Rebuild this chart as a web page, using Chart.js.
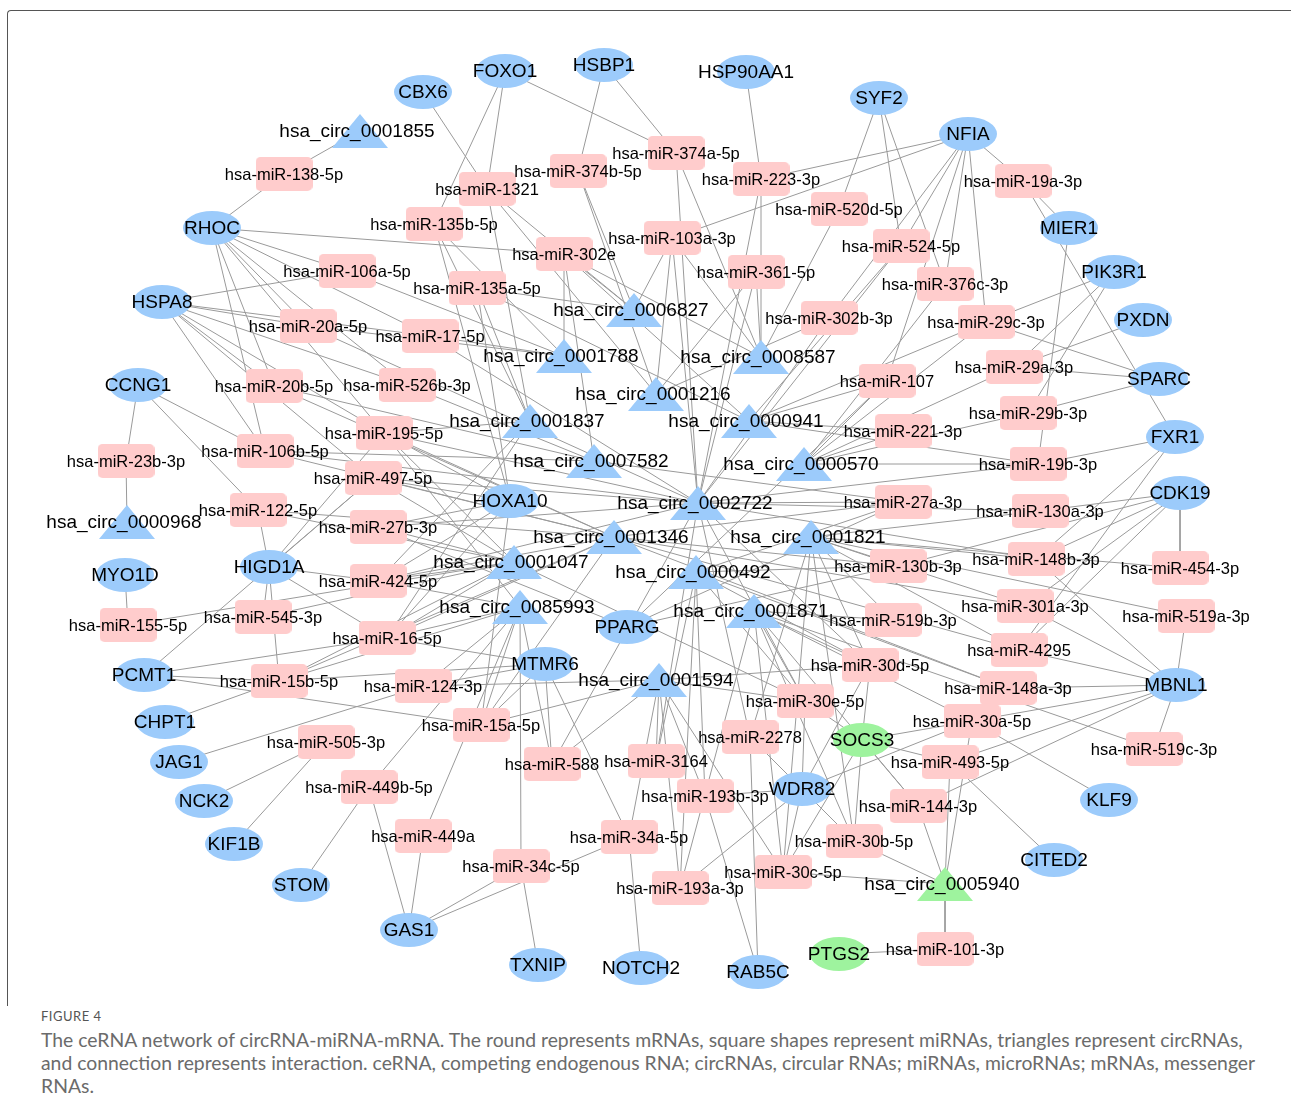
<!DOCTYPE html>
<html><head><meta charset="utf-8">
<script src="https://cdn.jsdelivr.net/npm/chart.js@4.4.1/dist/chart.umd.min.js"></script>
<style>
html,body{margin:0;padding:0;background:#fff;width:1291px;height:1113px;overflow:hidden;}
#wrap{position:absolute;left:0;top:0;width:1291px;height:1000px;}
#frame{position:absolute;left:7px;top:10px;width:1310px;height:995px;border-top:1.5px solid #555;border-left:1.5px solid #555;border-top-left-radius:4px;}
#fig{position:absolute;left:41px;top:1008px;font-family:Lato,sans-serif;font-size:13px;line-height:16px;letter-spacing:0.5px;color:#555;}
.cap{position:absolute;left:41px;font-family:Lato,sans-serif;color:#6b6b6b;white-space:nowrap;line-height:23px;}
</style></head><body>
<div id="frame"></div>
<div id="wrap"><canvas id="c" width="1291" height="1000"></canvas></div>
<div id="fig">FIGURE 4</div>
<div class="cap" id="l1" style="top:1028px">The ceRNA network of circRNA-miRNA-mRNA. The round represents mRNAs, square shapes represent miRNAs, triangles represent circRNAs,</div>
<div class="cap" id="l2" style="top:1051px">and connection represents interaction. ceRNA, competing endogenous RNA; circRNAs, circular RNAs; miRNAs, microRNAs; mRNAs, messenger</div>
<div class="cap" id="l3" style="top:1074px">RNAs.</div>
<script>
// ---------- DATA ----------
const mrnaNames = ["FOXO1","HSBP1","HSP90AA1","CBX6","SYF2","NFIA","MIER1","PIK3R1","PXDN","SPARC","FXR1","CDK19","MBNL1","KLF9","CITED2","RHOC","HSPA8","CCNG1","MYO1D","HIGD1A","PCMT1","CHPT1","JAG1","NCK2","KIF1B","STOM","GAS1","TXNIP","NOTCH2","RAB5C","HOXA10","PPARG","MTMR6","WDR82","SOCS3","PTGS2"];
const mrnaX = [505,604,746,423,879,968,1069,1114,1143,1159,1175,1180,1176,1109,1054,212,162,138,125,269,144,165,179,204,234,301,409,538,641,758,510,627,545,802,862,839];
const mrnaY = [71,65,72,92,98,134,228,272,320,379,437,493,685,800,860,228,302,385,575,567,675,722,762,801,844,885,930,965,968,972,501,627,664,789,740,954];

const mirnaNames = ["hsa-miR-138-5p","hsa-miR-1321","hsa-miR-374b-5p","hsa-miR-374a-5p","hsa-miR-223-3p","hsa-miR-520d-5p","hsa-miR-524-5p","hsa-miR-376c-3p","hsa-miR-19a-3p","hsa-miR-135b-5p","hsa-miR-302e","hsa-miR-103a-3p","hsa-miR-361-5p","hsa-miR-106a-5p","hsa-miR-135a-5p","hsa-miR-20a-5p","hsa-miR-17-5p","hsa-miR-302b-3p","hsa-miR-29c-3p","hsa-miR-29a-3p","hsa-miR-29b-3p","hsa-miR-19b-3p","hsa-miR-130a-3p","hsa-miR-148b-3p","hsa-miR-301a-3p","hsa-miR-4295","hsa-miR-454-3p","hsa-miR-519a-3p","hsa-miR-148a-3p","hsa-miR-30a-5p","hsa-miR-519c-3p","hsa-miR-493-5p","hsa-miR-144-3p","hsa-miR-30d-5p","hsa-miR-30e-5p","hsa-miR-2278","hsa-miR-3164","hsa-miR-193b-3p","hsa-miR-30b-5p","hsa-miR-30c-5p","hsa-miR-193a-3p","hsa-miR-101-3p","hsa-miR-34a-5p","hsa-miR-34c-5p","hsa-miR-588","hsa-miR-15a-5p","hsa-miR-124-3p","hsa-miR-449b-5p","hsa-miR-449a","hsa-miR-505-3p","hsa-miR-15b-5p","hsa-miR-155-5p","hsa-miR-545-3p","hsa-miR-16-5p","hsa-miR-424-5p","hsa-miR-27b-3p","hsa-miR-497-5p","hsa-miR-195-5p","hsa-miR-526b-3p","hsa-miR-20b-5p","hsa-miR-106b-5p","hsa-miR-122-5p","hsa-miR-23b-3p","hsa-miR-107","hsa-miR-221-3p","hsa-miR-27a-3p","hsa-miR-130b-3p","hsa-miR-519b-3p"];
const mirnaX = [284,487,578,676,761,839,901,945,1023,434,564,672,756,347,477,308,430,829,986,1014,1028,1038,1040,1036,1025,1019,1180,1186,1008,972,1154,950,918,870,805,750,656,705,854,783,680,945,629,521,552,481,423,369,423,326,279,128,263,387,378,378,373,384,407,274,265,258,126,887,903,903,898,893];
const mirnaY = [174,189,171,153,179,209,246,284,181,224,254,238,272,271,288,326,336,318,322,367,413,464,511,559,606,650,568,616,688,721,749,762,806,665,701,737,761,796,841,872,888,949,837,866,764,725,686,787,836,742,681,625,617,638,581,527,478,433,385,386,451,510,461,381,431,502,566,620];

const circNames = ["hsa_circ_0001855","hsa_circ_0006827","hsa_circ_0001788","hsa_circ_0008587","hsa_circ_0001216","hsa_circ_0000941","hsa_circ_0001837","hsa_circ_0007582","hsa_circ_0000570","hsa_circ_0002722","hsa_circ_0000968","hsa_circ_0001346","hsa_circ_0001821","hsa_circ_0001047","hsa_circ_0000492","hsa_circ_0085993","hsa_circ_0001871","hsa_circ_0001594","hsa_circ_0005940"];
const circX = [360,634,564,761,656,749,530,594,804,698,127,614,811,514,696,520,754,659,945];
const circY = [131,310,356,357,394,421,421,461,464,503,522,537,537,562,572,607,611,680,884];

// highlighted (green) nodes
const greenNodes = ["SOCS3","PTGS2","hsa_circ_0005940"];

// interactions: [node, [partners]] ; miRNA partners by suffix after "hsa-miR-"
const interactions = [
 ["0001855",["138-5p"]],
 ["RHOC",["138-5p","302e","106a-5p","17-5p","20a-5p","526b-3p","20b-5p","106b-5p","195-5p"]],
 ["CBX6",["1321"]],
 ["FOXO1",["1321","135b-5p","374a-5p"]],
 ["HSBP1",["374b-5p","374a-5p"]],
 ["HSP90AA1",["223-3p"]],
 ["SYF2",["520d-5p","524-5p","376c-3p"]],
 ["NFIA",["223-3p","103a-3p","19a-3p","29c-3p","524-5p","376c-3p","302b-3p","107"]],
 ["MIER1",["19a-3p","19b-3p"]],
 ["FXR1",["19a-3p","19b-3p","148b-3p","4295"]],
 ["PIK3R1",["29c-3p","29a-3p","29b-3p"]],
 ["PXDN",["29a-3p"]],
 ["SPARC",["29c-3p","29a-3p","29b-3p"]],
 ["CDK19",["130a-3p","130b-3p","148b-3p","301a-3p","4295","454-3p"]],
 ["MBNL1",["519a-3p","4295","148a-3p","30a-5p","493-5p","144-3p","519c-3p","301a-3p","148b-3p"]],
 ["KLF9",["30a-5p"]],
 ["CITED2",["493-5p"]],
 ["0005940",["101-3p","30b-5p","30c-5p","144-3p","493-5p","30a-5p"]],
 ["PTGS2",["101-3p"]],
 ["SOCS3",["30d-5p","30e-5p","30b-5p","30c-5p","144-3p","493-5p","30a-5p"]],
 ["WDR82",["30e-5p","30d-5p","30b-5p","30c-5p","193a-3p","193b-3p","30a-5p","2278"]],
 ["RAB5C",["2278","193b-3p"]],
 ["NOTCH2",["34a-5p"]],
 ["TXNIP",["34c-5p"]],
 ["GAS1",["449b-5p","449a","34c-5p","34a-5p"]],
 ["STOM",["449b-5p"]],
 ["KIF1B",["505-3p"]],
 ["NCK2",["505-3p"]],
 ["JAG1",["124-3p"]],
 ["CHPT1",["15b-5p"]],
 ["PCMT1",["15b-5p","16-5p","15a-5p","497-5p"]],
 ["MYO1D",["155-5p"]],
 ["CCNG1",["23b-3p","106b-5p","122-5p"]],
 ["0000968",["23b-3p"]],
 ["HIGD1A",["122-5p","545-3p","424-5p","16-5p","15b-5p","195-5p","497-5p"]],
 ["HSPA8",["106a-5p","20a-5p","17-5p","526b-3p","20b-5p","106b-5p","195-5p","497-5p"]],
 ["MTMR6",["588","34a-5p","124-3p","15a-5p","16-5p","15b-5p"]],
 ["HOXA10",["195-5p","497-5p","27b-3p","424-5p","16-5p","135a-5p","135b-5p","15a-5p"]],
 ["PPARG",["130b-3p","27a-3p","27b-3p","107"]],
 ["0006827",["1321","374b-5p","302e","103a-3p","135a-5p"]],
 ["0001788",["106a-5p","17-5p","20a-5p","135b-5p","302e"]],
 ["0008587",["374a-5p","223-3p","361-5p","103a-3p","520d-5p","302e"]],
 ["0001216",["1321","374b-5p","103a-3p","361-5p","302b-3p"]],
 ["0000941",["221-3p","107","19b-3p","29c-3p","524-5p","302e","135a-5p"]],
 ["0001837",["135b-5p","135a-5p","1321","195-5p","424-5p","16-5p"]],
 ["0007582",["302e","526b-3p","20b-5p","106b-5p","27a-3p"]],
 ["0000570",["19b-3p","221-3p","107","376c-3p","29a-3p","29b-3p","29c-3p"]],
 ["0002722",["27a-3p","130a-3p","361-5p","223-3p","103a-3p","374a-5p","302b-3p","524-5p","19b-3p","195-5p","497-5p","424-5p","27b-3p","17-5p","106b-5p","20a-5p","30e-5p","30d-5p","3164","2278","588","148b-3p"]],
 ["0001346",["195-5p","497-5p","424-5p","16-5p","15b-5p","15a-5p","106b-5p","20b-5p","27a-3p","130b-3p","148a-3p","301a-3p","4295","122-5p"]],
 ["0001821",["130b-3p","130a-3p","148b-3p","301a-3p","4295","454-3p","519b-3p","519a-3p","30d-5p","30b-5p","30c-5p","2278"]],
 ["0001047",["195-5p","497-5p","424-5p","16-5p","15b-5p","545-3p","155-5p","122-5p","27b-3p","30e-5p"]],
 ["0000492",["130b-3p","27a-3p","148a-3p","30d-5p","30e-5p","193b-3p","193a-3p","3164"]],
 ["0085993",["16-5p","424-5p","15a-5p","15b-5p","124-3p","449b-5p","449a","34c-5p","588","195-5p"]],
 ["0001871",["519b-3p","30a-5p","30e-5p","30d-5p","30b-5p","30c-5p","193a-3p","519c-3p","144-3p"]],
 ["0001594",["30d-5p","30e-5p","124-3p","15a-5p","3164","193b-3p","193a-3p","588","34a-5p","30c-5p"]]
];

// ---------- BUILD ----------
const pos = {};
mrnaNames.forEach((n,i)=>pos[n]=[mrnaX[i],mrnaY[i]]);
mirnaNames.forEach((n,i)=>pos[n]=[mirnaX[i],mirnaY[i]]);
circNames.forEach((n,i)=>pos[n]=[circX[i],circY[i]]);
function look(k){ return pos[k] || pos["hsa-miR-"+k] || pos["hsa_circ_"+k]; }

const edgePts = [];
interactions.forEach(([a,list])=>{
  const pa = look(a);
  list.forEach(b=>{
    const pb = look(b);
    if(!pa||!pb){ console.log('missing', a, b); return; }
    edgePts.push({x:pa[0],y:pa[1]},{x:pb[0],y:pb[1]},{x:NaN,y:NaN});
  });
});

function mk(w,h,draw){ const c=document.createElement('canvas'); c.width=w; c.height=h; const g=c.getContext('2d'); draw(g,w,h); return c; }
const ellipse = col => mk(58,34,(g,w,h)=>{g.fillStyle=col;g.beginPath();g.ellipse(w/2,h/2,w/2,h/2,0,0,Math.PI*2);g.fill();});
const blueEll = ellipse('#9ccbfb'), greenEll = ellipse('#9ef39e');
const pinkRect = mk(57,34,(g,w,h)=>{g.fillStyle='#ffcccc';g.beginPath();g.roundRect(0,0,w,h,5);g.fill();});
const tri = col => mk(56,34,(g,w,h)=>{g.fillStyle=col;g.beginPath();g.moveTo(w/2,0);g.lineTo(w,h);g.lineTo(0,h);g.closePath();g.fill();});
const blueTri = tri('#9ccbfb'), greenTri = tri('#9ef39e');

const mrnaPts = mrnaNames.map((n,i)=>({x:mrnaX[i],y:mrnaY[i],name:n}));
const mirnaPts = mirnaNames.map((n,i)=>({x:mirnaX[i],y:mirnaY[i],name:n}));
const circPts = circNames.map((n,i)=>({x:circX[i],y:circY[i],name:n}));

const labelPlugin = {
  id:'nodeLabels',
  afterDatasetsDraw(chart){
    const {ctx, scales:{x,y}} = chart;
    ctx.save();
    ctx.textAlign='center'; ctx.textBaseline='middle'; ctx.fillStyle='#000';
    chart.data.datasets.forEach(ds=>{
      if(!ds.kind) return;
      ctx.font = ds.kind==='mirna' ? '16.5px "Liberation Sans", Arial, sans-serif' : '19px "Liberation Sans", Arial, sans-serif';
      const dx = ds.kind==='circ' ? -3 : 0;
      ds.data.forEach(p=>{ ctx.fillText(p.name, x.getPixelForValue(p.x)+dx, y.getPixelForValue(p.y)+1); });
    });
    ctx.restore();
  }
};

new Chart(document.getElementById('c'), {
  type:'scatter',
  data:{ datasets:[
    {kind:'mrna', data:mrnaPts, pointRadius:20, pointHoverRadius:20, order:0,
     pointStyle: c => (c.raw && greenNodes.includes(c.raw.name)) ? greenEll : blueEll},
    {kind:'mirna', data:mirnaPts, pointRadius:20, pointHoverRadius:20, order:1, pointStyle: pinkRect},
    {kind:'circ', data:circPts, pointRadius:20, pointHoverRadius:20, order:2,
     pointStyle: c => (c.raw && greenNodes.includes(c.raw.name)) ? greenTri : blueTri},
    {data:edgePts, showLine:true, spanGaps:false, pointRadius:0, pointHoverRadius:0, borderColor:'#9a9a9a', borderWidth:1, order:10}
  ]},
  options:{
    responsive:false, animation:false, events:[],
    layout:{padding:0, autoPadding:false},
    plugins:{legend:{display:false}, tooltip:{enabled:false}},
    scales:{
      x:{type:'linear', min:0, max:1291, display:false},
      y:{type:'linear', min:0, max:1000, reverse:true, display:false}
    }
  },
  plugins:[labelPlugin]
});

// fit caption width
(function(){
  const g=document.createElement('canvas').getContext('2d');
  g.font='17px Lato';
  const w=g.measureText(document.getElementById('l2').textContent).width;
  const fs=17*1215/w;
  ['l1','l2','l3'].forEach(id=>document.getElementById(id).style.fontSize=fs+'px');
})();
</script>
</body></html>
